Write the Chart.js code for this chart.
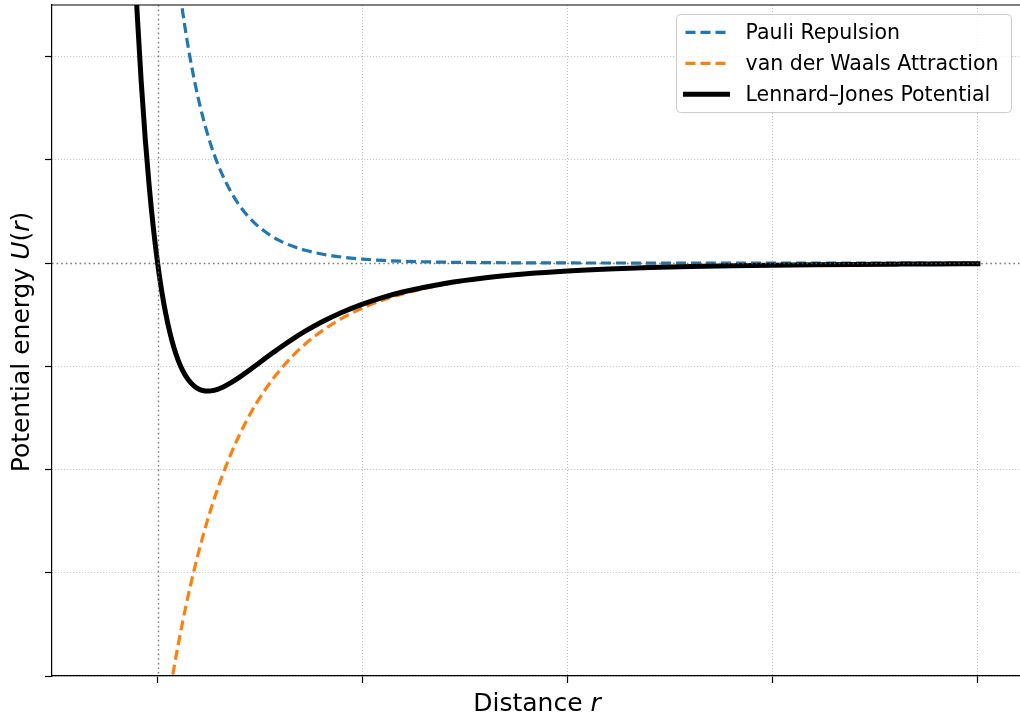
<!DOCTYPE html>
<html><head><meta charset="utf-8">
<script src="https://cdn.jsdelivr.net/npm/chart.js@4.4.0/dist/chart.umd.min.js"></script>
<style>
html,body{margin:0;padding:0;background:#fff;overflow:hidden;width:1020px;height:718px}
#wrap{position:absolute;left:0;top:0;width:1040px;height:718px}
</style>
</head><body><div id="wrap"><canvas id="c" width="1040" height="718"></canvas></div>
<script>
// ---- data ----
const rValues = [0.90,0.92,0.94,0.95,0.96,0.97,0.98,0.99,
  1.00,1.01,1.02,1.03,1.04,1.05,1.06,1.07,1.08,1.09,1.10,1.11,1.12,1.13,1.14,1.15,1.16,
  1.18,1.20,1.22,1.24,1.26,1.28,1.30,
  1.33,1.36,1.40,1.45,1.50,1.55,1.60,
  1.70,1.80,1.90,2.00,2.10,2.20,2.30,2.40,2.50,2.60,2.70,2.80,2.90,3.00];
const pauli = [17.562,13.491,10.422,9.179,8.095,7.149,6.321,5.596,
  4.960,4.402,3.911,3.479,3.098,2.762,2.465,2.202,1.970,1.763,1.580,1.418,1.273,1.144,1.029,0.927,0.836,
  0.681,0.556,0.456,0.375,0.310,0.256,0.213,
  0.162,0.124,0.0875,0.0574,0.0382,0.0258,0.0176,
  0.0085,0.0043,0.0022,0.0012,0.00067,0.00039,0.00023,0.00014,0.00008,0.00005,0.00003,0.00002,0.00001,0.00001];
const vdw = [-9.333,-8.180,-7.190,-6.747,-6.337,-5.955,-5.599,-5.268,
  -4.960,-4.673,-4.404,-4.154,-3.920,-3.701,-3.497,-3.305,-3.126,-2.957,-2.800,-2.652,-2.513,-2.382,-2.260,-2.144,-2.036,
  -1.837,-1.661,-1.504,-1.364,-1.240,-1.128,-1.028,
  -0.896,-0.784,-0.659,-0.534,-0.4354,-0.3577,-0.2956,
  -0.2055,-0.1458,-0.1054,-0.0775,-0.0578,-0.0437,-0.0335,-0.0260,-0.0203,-0.0161,-0.0128,-0.0103,-0.0083,-0.0068];
const lj = [8.229,5.311,3.232,2.432,1.758,1.194,0.722,0.328,
  0,-0.271,-0.493,-0.675,-0.822,-0.939,-1.032,-1.103,-1.156,-1.194,-1.220,-1.234,-1.240,-1.238,-1.231,-1.217,-1.200,
  -1.156,-1.105,-1.048,-0.989,-0.930,-0.872,-0.815,
  -0.734,-0.660,-0.571,-0.476,-0.397,-0.332,-0.278,
  -0.197,-0.1415,-0.1032,-0.0763,-0.0571,-0.0433,-0.0333,-0.0258,-0.0202,-0.0160,-0.0128,-0.0103,-0.0083,-0.0068];
const xTicks = [1, 1.5, 2, 2.5, 3];
const yTicks = [-4, -3, -2, -1, 0, 1, 2];
const seriesLabels = ['Pauli Repulsion', 'van der Waals Attraction', 'Lennard\u2013Jones Potential'];
const xTitle = [['Distance ', false], ['r', true]];
const yTitle = [['Potential energy ', false], ['U', true], ['(', false], ['r', true], [')', false]];
const xRefLine = 1, yRefLine = 0;

const FONT = '"DejaVu Sans", "Liberation Sans", sans-serif';
const toPts = arr => rValues.map((r, i) => ({x: r, y: arr[i]}));

function drawSegments(ctx, segs, size) {
  let total = 0;
  const widths = segs.map(([t, it]) => {
    ctx.font = (it ? 'oblique ' : '') + size + 'px ' + FONT;
    const w = ctx.measureText(t).width; total += w; return w;
  });
  let x = -total / 2;
  segs.forEach(([t, it], i) => {
    ctx.font = (it ? 'oblique ' : '') + size + 'px ' + FONT;
    ctx.fillText(t, x, 0); x += widths[i];
  });
}

const decor = {
  id: 'decor',
  afterDatasetsDraw(chart) {
    const {ctx, chartArea: a, scales: {x, y}} = chart;
    ctx.save();
    ctx.beginPath(); ctx.rect(a.left, a.top, a.right - a.left, a.bottom - a.top); ctx.clip();
    ctx.strokeStyle = 'rgba(100,100,100,0.85)';
    ctx.lineWidth = 1.4;
    ctx.setLineDash([1.6, 3]);
    const py = Math.round(y.getPixelForValue(yRefLine)) + 0.5;
    ctx.beginPath(); ctx.moveTo(a.left, py); ctx.lineTo(a.right, py); ctx.stroke();
    const px = Math.round(x.getPixelForValue(xRefLine)) + 0.5;
    ctx.beginPath(); ctx.moveTo(px, a.top); ctx.lineTo(px, a.bottom); ctx.stroke();
    ctx.restore();
  },
  afterDraw(chart) {
    const {ctx, chartArea: a} = chart;
    ctx.save();
    // top spine (left and bottom are the axis borders)
    ctx.setLineDash([]);
    ctx.strokeStyle = '#000'; ctx.lineWidth = 1.2;
    ctx.beginPath(); ctx.moveTo(a.left - 0.6, a.top); ctx.lineTo(a.right + 0.6, a.top); ctx.stroke();
    // legend
    const bw = 335, bh = 98;
    const bx = a.right - 11 - bw + 0.5, by = a.top + 9.5;
    const r = 4;
    ctx.beginPath();
    ctx.moveTo(bx + r, by);
    ctx.arcTo(bx + bw, by, bx + bw, by + bh, r);
    ctx.arcTo(bx + bw, by + bh, bx, by + bh, r);
    ctx.arcTo(bx, by + bh, bx, by, r);
    ctx.arcTo(bx, by, bx + bw, by, r);
    ctx.closePath();
    ctx.fillStyle = 'rgba(255,255,255,0.8)'; ctx.fill();
    ctx.strokeStyle = '#cccccc'; ctx.lineWidth = 1; ctx.stroke();
    chart.data.datasets.forEach((ds, i) => {
      const hy = by + 17.8 + i * 31;
      ctx.save();
      ctx.strokeStyle = ds.borderColor; ctx.lineWidth = ds.borderWidth;
      ctx.setLineDash(ds.borderDash || []);
      ctx.lineCap = ds.borderDash && ds.borderDash.length ? 'butt' : 'square';
      ctx.beginPath(); ctx.moveTo(bx + 9, hy); ctx.lineTo(bx + 9 + 42, hy); ctx.stroke();
      ctx.restore();
      ctx.fillStyle = '#000';
      ctx.font = '20.5px ' + FONT;
      ctx.textBaseline = 'alphabetic'; ctx.textAlign = 'left';
      ctx.fillText(ds.label, bx + 69, by + 24.5 + i * 31);
    });
    // axis titles
    ctx.fillStyle = '#000'; ctx.textBaseline = 'alphabetic'; ctx.textAlign = 'left';
    ctx.save();
    ctx.translate((a.left + a.right) / 2, 711);
    drawSegments(ctx, xTitle, 25);
    ctx.restore();
    ctx.save();
    ctx.translate(29, (a.top + a.bottom) / 2 + 1.5);
    ctx.rotate(-Math.PI / 2);
    drawSegments(ctx, yTitle, 25);
    ctx.restore();
    ctx.restore();
  }
};

new Chart(document.getElementById('c'), {
  type: 'line',
  data: {
    datasets: [
      {label: seriesLabels[0], data: toPts(pauli), borderColor: '#1f77b4', borderWidth: 3.2,
       borderDash: [10, 5], borderCapStyle: 'butt', borderJoinStyle: 'round', order: 2, clip: 0},
      {label: seriesLabels[1], data: toPts(vdw), borderColor: '#ff7f0e', borderWidth: 3.2,
       borderDash: [10, 5], borderCapStyle: 'butt', borderJoinStyle: 'round', order: 1, clip: 0},
      {label: seriesLabels[2], data: toPts(lj), borderColor: '#000000', borderWidth: 5,
       borderCapStyle: 'square', borderJoinStyle: 'round', order: 0, clip: 0}
    ]
  },
  options: {
    responsive: false, devicePixelRatio: 1, animation: false,
    elements: {point: {radius: 0, hoverRadius: 0}, line: {cubicInterpolationMode: 'monotone', fill: false}},
    layout: {padding: {top: 5, right: 18, left: 0, bottom: 0}},
    plugins: {legend: {display: false}, tooltip: {enabled: false}},
    events: [],
    scales: {
      x: {
        type: 'linear', min: 0.7425, max: 3.1075,
        afterBuildTicks: s => { s.ticks = xTicks.map(v => ({value: v})); },
        afterFit: s => { s.height = 42; },
        ticks: {display: false},
        grid: {
          color: c => (c.tick && c.tick.value === xRefLine) ? 'rgba(0,0,0,0)' : '#bdbdbd',
          lineWidth: 1, tickLength: 7, tickColor: '#000', tickWidth: 1.2, drawTicks: true
        },
        border: {display: true, color: '#000', width: 1.2, dash: [1, 2]}
      },
      y: {
        type: 'linear', min: -4, max: 2.5,
        afterBuildTicks: s => { s.ticks = yTicks.map(v => ({value: v})); },
        afterFit: s => { s.width = 52; },
        ticks: {display: false},
        grid: {
          color: c => (c.tick && c.tick.value === yRefLine) ? 'rgba(0,0,0,0)' : '#bdbdbd',
          lineWidth: 1, tickLength: 7, tickColor: '#000', tickWidth: 1.2, drawTicks: true
        },
        border: {display: true, color: '#000', width: 1.2, dash: [1, 2]}
      }
    }
  },
  plugins: [decor]
});
</script></body></html>
